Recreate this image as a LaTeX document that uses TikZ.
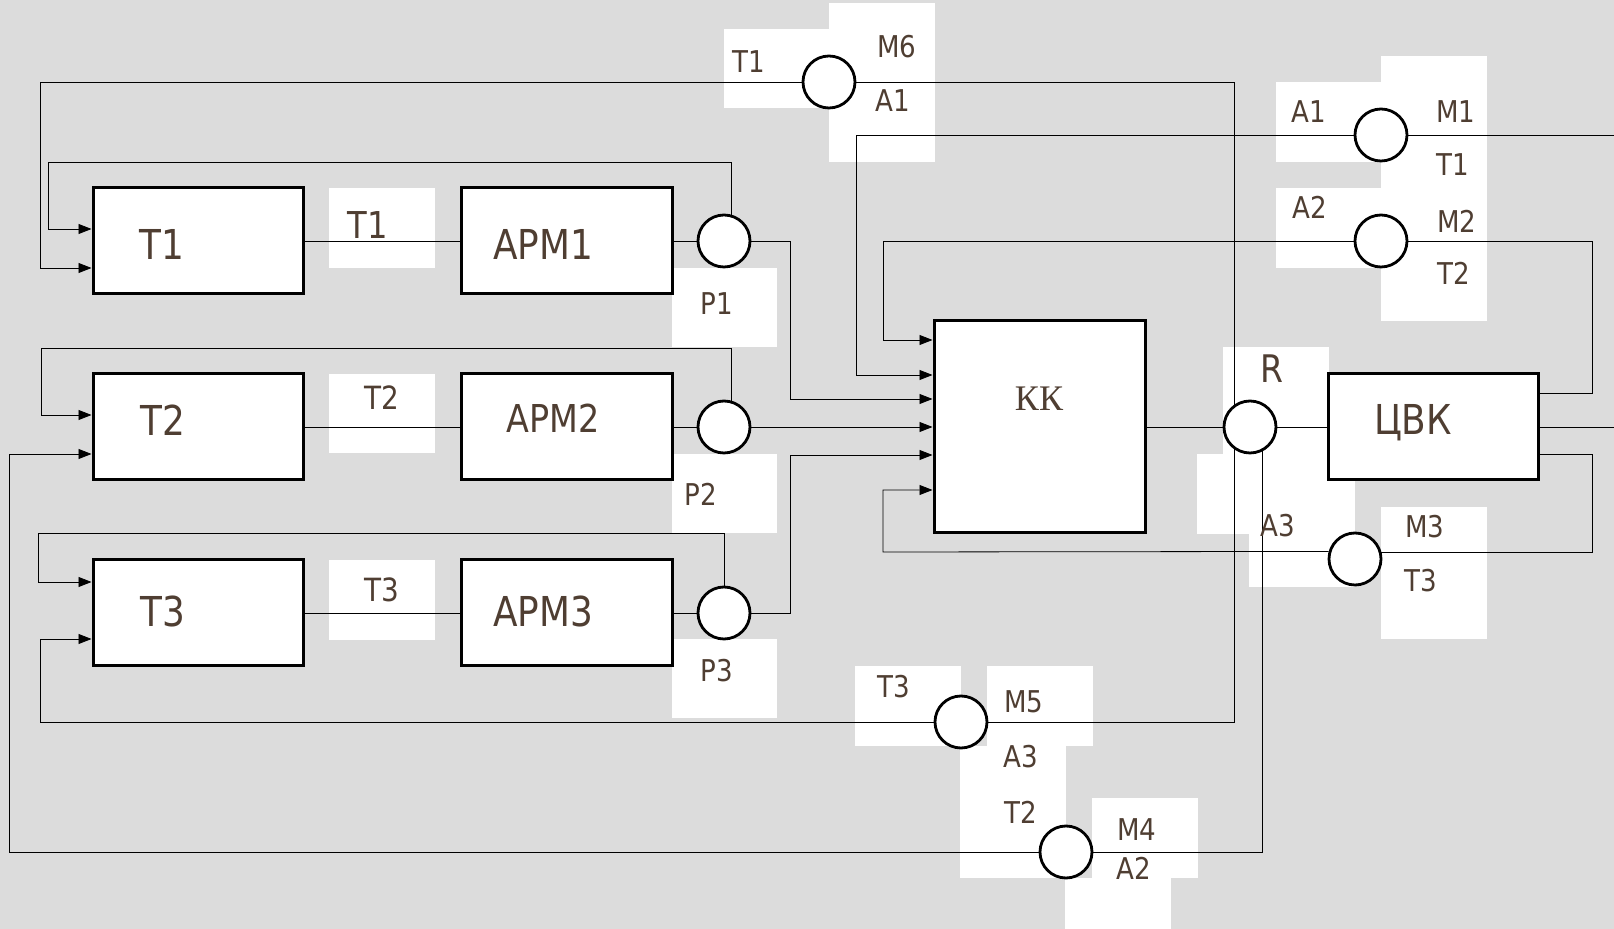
\documentclass[tikz,border=0pt]{standalone}
\usepackage{fontspec}
\setmainfont{DejaVu Sans}[FakeStretch=0.87]
\newfontfamily\kkserif{Liberation Serif}
\usetikzlibrary{arrows.meta}
\pgfdeclarelayer{patches}
\pgfdeclarelayer{wires}
\pgfsetlayers{patches,wires,main}

\begin{document}
\begin{tikzpicture}[x=0.5pt, y=-0.5pt, line width=1.4pt,
  block/.style={draw, line width=1.5pt, fill=white, minimum width=105pt, minimum height=53pt, inner sep=0pt},
  joint/.style={circle, draw, line width=1.4pt, fill=white, minimum size=26pt, inner sep=0pt},
  tag/.style={text=ink, inner sep=0pt, font=\fontsize{15}{18}\selectfont},
  bigtag/.style={text=ink, inner sep=0pt, font=\fontsize{20.6}{24}\selectfont},
  arr/.style={-{Triangle[length=6.5pt, width=5pt]}}]
  \definecolor{ink}{HTML}{4F3E32}
  \definecolor{paper}{HTML}{DCDCDC}
  \useasboundingbox (0,0) rectangle (1614,929);

  \begin{pgfonlayer}{patches}
    \fill[paper] (0,0) rectangle (1614,929);
    \foreach \xa/\ya/\xb/\yb in {
      724/29/829/108, 829/3/935/162,
      329/188/435/268, 329/374/435/453, 329/560/435/640,
      672/268/777/347, 672/454/777/533, 672/639/777/718,
      1276/82/1381/162, 1381/56/1487/321, 1276/188/1381/268,
      1223/347/1329/454, 1197/454/1355/534, 1249/534/1355/587,
      1381/507/1487/639,
      855/666/961/746, 987/666/1093/746, 960/746/1066/878,
      1092/798/1198/878, 1065/878/1171/929}{
      \fill[white] (\xa,\ya) rectangle (\xb,\yb);
    }
  \end{pgfonlayer}

  % blocks
  \foreach \i/\y in {1/241, 2/427, 3/613}{
    \node[block] (t\i) at (198,\y) {};
    \node[block, minimum width=105.5pt] (arm\i) at (566.5,\y) {};
    \node[joint] (p\i) at (724,\y) {};
  }
  \node[block, minimum width=105.5pt, minimum height=106pt] (kk) at (1039.5,427) {};
  \node[block] (cvk) at (1433,427) {};

  % junctions
  \node[joint] (m6) at (829,82) {};
  \node[joint] (m1) at (1381,135) {};
  \node[joint] (m2) at (1381,241) {};
  \node[joint] (r) at (1250,427) {};
  \node[joint] (m3) at (1355,559) {};
  \node[joint] (m5) at (961,722) {};
  \node[joint] (m4) at (1066,852) {};
  \coordinate (rimA) at (1614,135);
  \coordinate (rimB) at (1614,427);

  % block texts
  \foreach \n/\x/\y/\txt in {lt1/162/244/Т1, lt2/163/420/Т2, lt3/163/612/Т3,
      larm1/543/244/АРМ1, larm3/543/612/АРМ3}{
    \node[bigtag] (\n) at (\x,\y) {\txt};
  }
  \node[bigtag, font=\fontsize{19.2}{22}\selectfont] (larm2) at (553,418) {АРМ2};
  \node[bigtag, anchor=base] (lcvk) at (1413,435) {ЦВК};
  \node[text=ink, inner sep=0pt, font=\kkserif\fontsize{18}{20}\selectfont] (lkk) at (1039,399) {КК};
  \node[tag, font=\fontsize{19}{22}\selectfont] (lr) at (1272,369) {R};

  % link texts
  \node[tag, font=\fontsize{18.5}{22}\selectfont] (ll1) at (368,225) {Т1};
  \node[tag, font=\fontsize{16}{19}\selectfont] (ll2) at (382,398) {Т2};
  \node[tag, font=\fontsize{16}{19}\selectfont] (ll3) at (382,590) {Т3};

  % junction texts
  \foreach \n/\x/\y/\txt in {
      lp1/717/304/Р1, lp2/701/494/Р2, lp3/717/671/Р3,
      l6t/749/62/Т1, l6m/897/47/М6, l6a/893/101/А1,
      l1a/1309/112/А1, l1m/1456/112/М1, l1t/1453/165/Т1,
      l2a/1310/207/А2, l2m/1457/221/М2, l2t/1454/273/Т2,
      l3a/1278/526/А3, l3m/1425/527/М3, l3t/1421/581/Т3,
      l5t/894/687/Т3, l5m/1024/702/М5, l5a/1021/757/А3,
      l4t/1021/812/Т2, l4m/1137/830/М4, l4a/1134/868/А2}{
    \node[tag] (\n) at (\x,\y) {\txt};
  }

  \begin{pgfonlayer}{wires}
    % rows
    \foreach \i in {1,2,3}{
      \draw (t\i.east) -- (arm\i.west);
      \draw (arm\i.east) -- (p\i.west);
    }
    % feedback into the T blocks
    \draw[arr] (p1.74) |- (48,162) |- ([yshift=6pt]t1.west);
    \draw[arr] (p2.74) |- (41,348) |- ([yshift=6pt]t2.west);
    \draw[arr] (p3.north) |- (38,533) |- ([yshift=15.5pt]t3.west);
    \draw[arr] (m6.west) -- (40,82) |- ([yshift=-13.5pt]t1.west);
    \draw[arr] (m4.west) -- (9,852) |- ([yshift=-13.5pt]t2.west);
    \draw[arr] (m5.west) -- (40,722) |- ([yshift=-13pt]t3.west);
    % inputs of KK
    \draw[arr] (m2.west) -- (883,241) |- ([yshift=43.5pt]kk.west);
    \draw[arr] (m1.west) -- (856,135) |- ([yshift=26pt]kk.west);
    \draw[arr] (p1.east) -- (790,241) |- ([yshift=14pt]kk.west);
    \draw[arr] (p2.east) -- (kk.west);
    \draw[arr] (p3.east) -- (790,613) |- ([yshift=-14pt]kk.west);
    \draw[arr] (m3.164.4) -- (883,552) |- ([yshift=-31.5pt]kk.west);
    % KK - R - CVK
    \draw (kk.east) -- (r.west);
    \draw (r.east) -- (cvk.west);
    \draw (m6.east) -- (1234,82) |- (m5.east);
    \draw (r.-62.5) |- (m4.east);
    % outputs of CVK
    \draw (m2.east) -- (1592,241) |- ([yshift=17pt]cvk.east);
    \draw ([yshift=-13.5pt]cvk.east) -- (1592,454) |- (m3.15.6);
    \draw (m1.east) -- (rimA);
    \draw (cvk.east) -- (rimB);
  \end{pgfonlayer}
\end{tikzpicture}
\end{document}
